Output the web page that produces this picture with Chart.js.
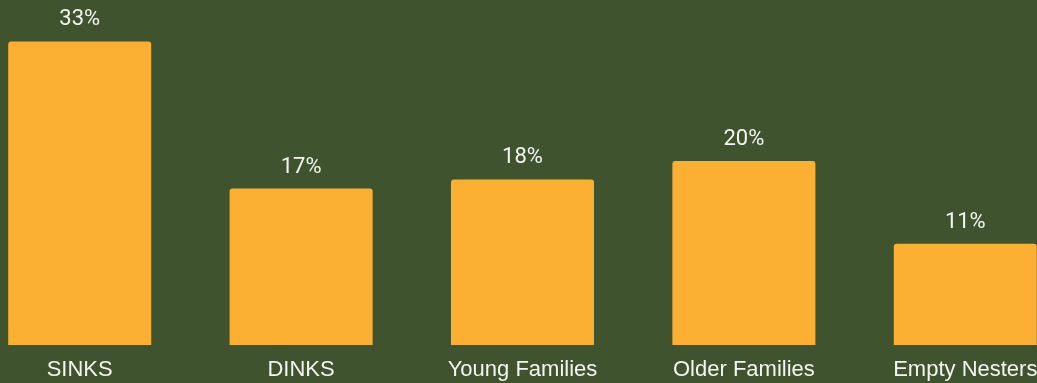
<!DOCTYPE html>
<html>
<head>
<meta charset="utf-8">
<script src="https://cdn.jsdelivr.net/npm/chart.js@4/dist/chart.umd.min.js"></script>
<style>
  html, body {
    margin: 0;
    padding: 0;
    width: 1037px;
    height: 383px;
    overflow: hidden;
    background: #3f542e;
  }
  #wrap {
    position: absolute;
    left: -31px;
    top: 0;
    width: 1107px;
    height: 389px;
  }
</style>
</head>
<body>
<div id="wrap"><canvas id="segmentChart" width="1107" height="389"></canvas></div>
<script>
const segments = ['SINKS', 'DINKS', 'Young Families', 'Older Families', 'Empty Nesters'];
const shares = [33, 17, 18, 20, 11];

const BAR_COLOR = '#fbb034';
const TEXT_COLOR = '#f4f4f0';

// draws the percentage above each bar
const valueLabels = {
    id: 'valueLabels',
    afterDatasetsDraw(chart) {
        const ctx = chart.ctx;
        const meta = chart.getDatasetMeta(0);
        ctx.save();
        ctx.fillStyle = TEXT_COLOR;
        ctx.font = '22px Roboto, sans-serif';
        ctx.textAlign = 'center';
        ctx.textBaseline = 'alphabetic';
        meta.data.forEach((bar, i) => {
            ctx.fillText(`${shares[i]}%`, bar.x, bar.y - 16);
        });
        ctx.restore();
    }
};

const ctx = document.getElementById('segmentChart').getContext('2d');
new Chart(ctx, {
    type: 'bar',
    data: {
        labels: segments,
        datasets: [{
            data: shares,
            backgroundColor: BAR_COLOR,
            borderWidth: 0,
            borderRadius: { topLeft: 3, topRight: 3, bottomLeft: 0, bottomRight: 0 },
            borderSkipped: false,
            categoryPercentage: 1,
            barPercentage: 0.646,
        }]
    },
    options: {
        responsive: false,
        animation: false,
        layout: {
            padding: { top: 0, bottom: 1.6, left: 0, right: 0 }
        },
        plugins: {
            legend: { display: false },
            tooltip: { enabled: false }
        },
        scales: {
            x: {
                grid: { display: false },
                border: { display: false },
                ticks: {
                    color: TEXT_COLOR,
                    padding: 4,
                    maxRotation: 0,
                    autoSkip: false,
                    font: { family: "'Liberation Sans', Arial, sans-serif", size: 22 }
                }
            },
            y: {
                display: false,
                min: 0,
                max: 37.5
            }
        }
    },
    plugins: [valueLabels]
});
</script>
</body>
</html>
